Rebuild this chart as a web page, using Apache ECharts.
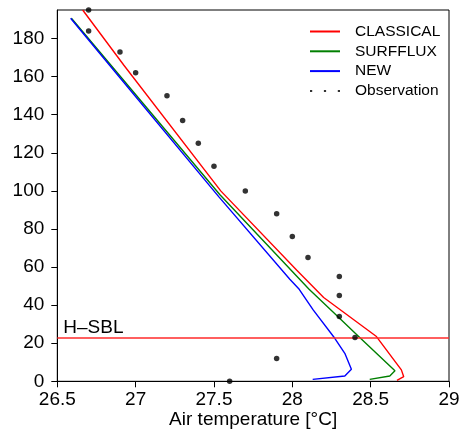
<!DOCTYPE html>
<html>
<head>
<meta charset="utf-8">
<script src="https://cdn.jsdelivr.net/npm/echarts@6/dist/echarts.min.js"></script>
<style>
html,body{margin:0;padding:0;background:#fff;}
#chart{width:461px;height:432px;}
</style>
</head>
<body>
<div id="chart"></div>
<script>
// Observation profile (temperature °C, height m)
const obsT = [27.6, 27.9, 28.4, 28.3, 28.3, 28.3, 28.1, 28.0, 27.9, 27.7, 27.5, 27.4, 27.3, 27.2, 27.0, 26.9, 26.7, 26.7];
const obsZ = [0, 12, 23, 34, 45, 55, 65, 76, 88, 100, 113, 125, 137, 150, 162, 173, 184, 195];

// CLASSICAL model profile
const classicalT = [28.668, 28.711, 28.696, 28.537, 28.20, 28.027, 27.543, 26.925, 26.662];
const classicalZ = [0.5, 2.4, 6, 23.5, 44, 58.5, 100, 166, 195];

// SURFFLUX model profile
const surffluxT = [28.494, 28.622, 28.655, 28.42, 28.29, 28.107, 27.538, 26.59];
const surffluxZ = [1, 2.8, 5.5, 23.8, 34, 48.3, 98, 190.7];

// NEW model profile
const newT = [28.13, 28.335, 28.377, 28.335, 28.271, 28.133, 28.044, 27.984, 27.53, 26.904, 26.585];
const newZ = [1, 2.8, 6.3, 14.7, 22.6, 37.5, 48.3, 53.6, 97, 159, 190.7];

// H-SBL height
const hsblHeight = 23;
const hsblLabel = 'H–SBL';

// Axis ticks
const yTickValues = [0, 20, 40, 60, 80, 100, 120, 140, 160, 180];
const xMin = 26.5, xMax = 29, xStep = 0.5;
const yMin = 0, yMax = 195;

const pair = (xs, ys) => xs.map((x, i) => [x, ys[i]]);

const FONT = "'Liberation Sans', Arial, Helvetica, sans-serif";
const chart = echarts.init(document.getElementById('chart'), null, {renderer: 'canvas'});

chart.setOption({
  animation: false,
  backgroundColor: '#fff',
  textStyle: {fontFamily: FONT},
  grid: {left: 57.3, right: 12, top: 10, bottom: 50.7, show: true, borderColor: '#000', borderWidth: 1,
         containLabel: false, outerBoundsMode: 'none'},
  legend: {
    orient: 'vertical',
    left: 310,
    top: 23.5,
    padding: 0,
    itemWidth: 30,
    itemHeight: 2,
    itemGap: 3.8,
    textStyle: {fontFamily: FONT, fontSize: 15.5, color: '#000', padding: [0, 0, 0, 10]},
    data: [
      {name: 'CLASSICAL', icon: 'rect'},
      {name: 'SURFFLUX', icon: 'rect'},
      {name: 'NEW', icon: 'rect'},
      {name: 'Observation', icon: 'path://M0,0h2.2v2h-2.2z M13.9,0h2.2v2h-2.2z M27.8,0h2.2v2h-2.2z'}
    ]
  },
  xAxis: {
    type: 'value',
    min: xMin, max: xMax, interval: xStep,
    name: 'Air temperature [°C]',
    nameLocation: 'middle',
    nameGap: 29,
    nameMoveOverlap: false,
    nameTextStyle: {fontFamily: FONT, fontSize: 19, color: '#000'},
    splitLine: {show: false},
    axisLine: {show: true, onZero: false, lineStyle: {color: '#000', width: 1}},
    axisTick: {show: true, inside: false, length: 6, lineStyle: {color: '#000'}},
    axisLabel: {fontFamily: FONT, fontSize: 19, color: '#000', margin: 8.5}
  },
  yAxis: {
    type: 'value',
    min: yMin, max: yMax,
    splitLine: {show: false},
    axisLine: {show: true, onZero: false, lineStyle: {color: '#000', width: 1}},
    axisTick: {show: true, inside: false, length: 6, lineStyle: {color: '#000'}, customValues: yTickValues},
    axisLabel: {fontFamily: FONT, fontSize: 19, color: '#000', margin: 13, customValues: yTickValues}
  },
  series: [
    {
      name: 'CLASSICAL', type: 'line', data: pair(classicalT, classicalZ),
      symbol: 'none', color: '#ff0000', lineStyle: {color: '#ff0000', width: 1.4}, clip: true, z: 3
    },
    {
      name: 'SURFFLUX', type: 'line', data: pair(surffluxT, surffluxZ),
      symbol: 'none', color: '#007f00', lineStyle: {color: '#007f00', width: 1.4}, clip: true, z: 3
    },
    {
      name: 'NEW', type: 'line', data: pair(newT, newZ),
      symbol: 'none', color: '#0000ff', lineStyle: {color: '#0000ff', width: 1.4}, clip: true, z: 4
    },
    {
      name: 'Observation', type: 'scatter', data: pair(obsT, obsZ),
      symbol: 'circle', symbolSize: 5.5, color: '#000', itemStyle: {color: '#000'}, clip: true, z: 5,
      markLine: {
        silent: true,
        symbol: 'none',
        animation: false,
        lineStyle: {color: '#ff2a2a', width: 1.6, type: 'solid'},
        label: {
          show: true, position: 'insideStartTop', formatter: hsblLabel,
          color: '#000', fontFamily: FONT, fontSize: 19, distance: [6, 0.5]
        },
        data: [{yAxis: hsblHeight}]
      }
    }
  ]
});
</script>
</body>
</html>
